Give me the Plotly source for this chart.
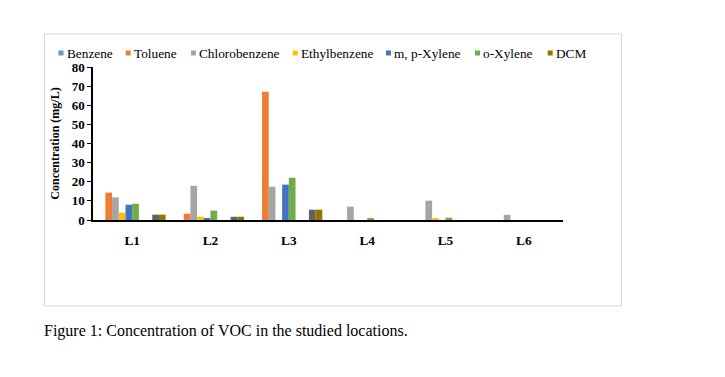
import plotly.graph_objects as go

categories = ["L1", "L2", "L3", "L4", "L5", "L6"]

benzene = [0, 0, 0, 0, 0, 0]
toluene = [14.3, 3.3, 67.1, 0, 0, 0]
chlorobenzene = [11.8, 17.9, 17.4, 7.0, 10.1, 2.7]
ethylbenzene = [3.8, 1.7, 0, 0, 1.0, 0]
mp_xylene = [8.0, 0.7, 18.5, 0, 0, 0]
o_xylene = [8.5, 4.9, 22.1, 0.7, 1.2, 0]
series7 = [0, 0, 0, 0, 0, 0]
series8 = [0, 0, 0, 0, 0, 0]
series9 = [2.8, 1.7, 5.4, 0, 0, 0]
dcm = [2.8, 1.7, 5.4, 0, 0, 0]

series = [
    ("Benzene", benzene, "#5B9BD5", True),
    ("Toluene", toluene, "#ED7D31", True),
    ("Chlorobenzene", chlorobenzene, "#A5A5A5", True),
    ("Ethylbenzene", ethylbenzene, "#FFC000", True),
    ("m, p-Xylene", mp_xylene, "#4472C4", True),
    ("o-Xylene", o_xylene, "#70AD47", True),
    ("Series7", series7, "#264478", False),
    ("Series8", series8, "#9E480E", False),
    ("Series9", series9, "#636363", False),
    ("DCM", dcm, "#997300", True),
]

# screen layout (pixels in the 725x377 window)
PX0, PX1, PY_TOP, PY_BOT = 93, 563, 67, 220
PW, PH = PX1 - PX0, PY_BOT - PY_TOP


def px(X):
    return (X - PX0) / PW


def py(Y):
    return (PY_BOT - Y) / PH


legend_box_left = [58.5, 125.7, 191, 292.7, 386, 475, 547.7]
LEG_Y = 53

fig = go.Figure()
for name, vals, color, show in series:
    fig.add_trace(go.Bar(x=categories, y=vals, name=name, marker_color=color,
                         marker_line_width=0, showlegend=False))

FONT = "Liberation Serif"
shapes = [dict(type="rect", xref="paper", yref="paper",
               x0=px(44.5), x1=px(621.5), y0=py(306), y1=py(34),
               line=dict(color="#d9d9d9", width=1), fillcolor="rgba(0,0,0,0)", layer="below")]
annotations = [dict(text="Figure 1: Concentration of VOC in the studied locations.",
                    xref="paper", yref="paper", x=px(42), y=py(331),
                    xanchor="left", yanchor="middle", showarrow=False,
                    font=dict(family=FONT, size=16, color="black"))]

shown = [(n, c) for n, v, c, s in series if s]
for (name, color), bx in zip(shown, legend_box_left):
    shapes.append(dict(type="rect", xref="paper", yref="paper",
                       x0=px(bx), x1=px(bx + 5), y0=py(LEG_Y + 2.5), y1=py(LEG_Y - 2.5),
                       line=dict(width=0), fillcolor=color))
    annotations.append(dict(text=name, xref="paper", yref="paper", x=px(bx + 6), y=py(LEG_Y),
                            xanchor="left", yanchor="middle", showarrow=False,
                            font=dict(family=FONT, size=13.3, color="black")))

fig.update_layout(
    width=717, height=369,
    margin=dict(l=PX0 - 8, r=717 - (PX1 - 8), t=PY_TOP - 8, b=369 - (PY_BOT - 8)),
    paper_bgcolor="white", plot_bgcolor="white",
    barmode="group", bargap=0.145, bargroupgap=0,
    font=dict(family=FONT, color="black"),
    showlegend=False,
    xaxis=dict(showline=True, linecolor="black", linewidth=1.5, ticks="outside",
               ticklen=7, tickcolor="rgba(0,0,0,0)",
               tickfont=dict(family=FONT, size=13.3, color="black", weight="bold"),
               showgrid=False, zeroline=False),
    yaxis=dict(range=[0, 80], dtick=10, showline=True, linecolor="black", linewidth=1.5,
               ticks="outside", ticklen=4, tickcolor="black",
               tickfont=dict(family=FONT, size=13, color="black", weight="bold"),
               showgrid=False, zeroline=False,
               title=dict(text="Concentration (mg/L)", standoff=9,
                          font=dict(family=FONT, size=12, color="black", weight="bold"))),
    shapes=shapes,
    annotations=annotations,
)

fig.write_html("out.html")
